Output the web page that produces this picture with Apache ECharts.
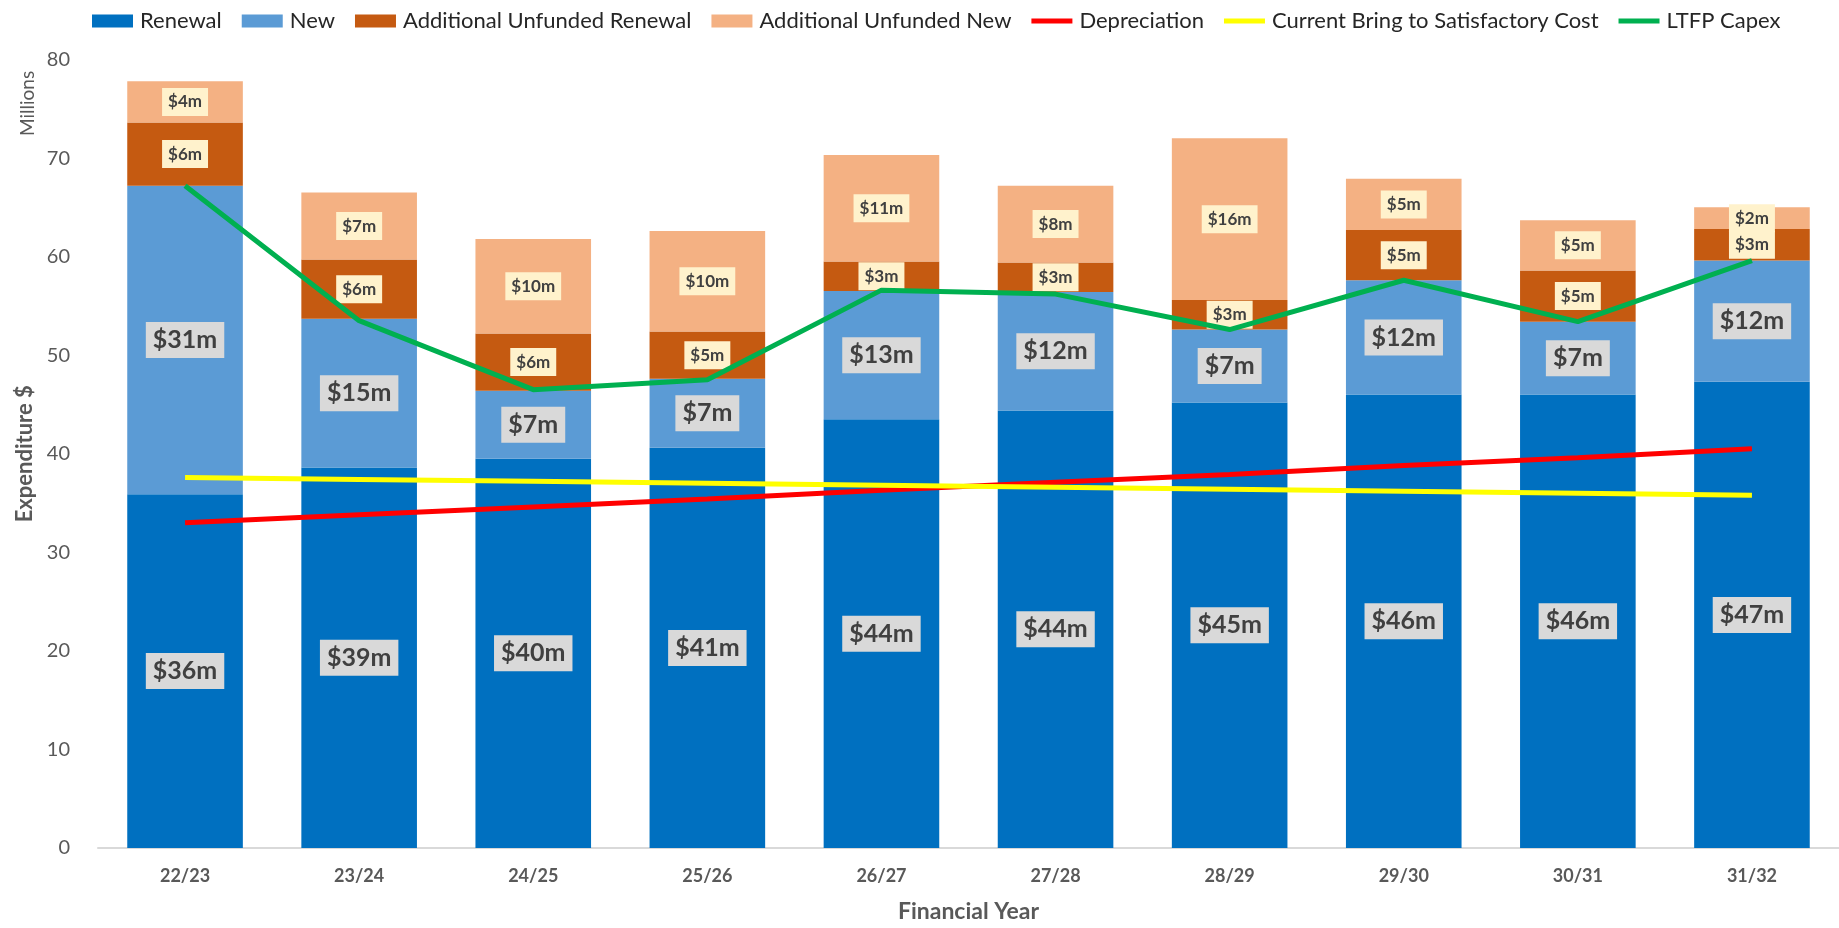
<!DOCTYPE html>
<html>
<head>
<meta charset="utf-8">
<script src="https://cdn.jsdelivr.net/npm/echarts@6/dist/echarts.min.js"></script>
<style>
    html, body { margin: 0; padding: 0; background: #fff; }
    #content1 { width: 1839px; height: 928px; }
</style>
</head>
<body>
<div id="content1"></div>
<script>
    // values in $ millions
    var years = ['22/23', '23/24', '24/25', '25/26', '26/27', '27/28', '28/29', '29/30', '30/31', '31/32'];
    var renewal = [35.9, 38.6, 39.5, 40.6, 43.5, 44.4, 45.2, 46.0, 46.0, 47.3];
    var newAssets = [31.3, 15.1, 6.9, 7.0, 13.0, 12.0, 7.4, 11.6, 7.4, 12.3];
    var addRenewal = [6.4, 6.0, 5.8, 4.8, 3.0, 3.0, 3.0, 5.1, 5.2, 3.2];
    var addNew = [4.2, 6.8, 9.6, 10.2, 10.8, 7.8, 16.4, 5.2, 5.1, 2.2];
    var depreciation = [33.0, 33.8, 34.6, 35.4, 36.3, 37.1, 37.9, 38.8, 39.6, 40.5];
    var bringToSat = [37.6, 37.4, 37.2, 37.0, 36.8, 36.6, 36.4, 36.2, 36.0, 35.8];
    var ltfpCapex = [67.2, 53.5, 46.5, 47.5, 56.6, 56.2, 52.6, 57.6, 53.4, 59.6];
    var yTicks = [0, 80, 10]; // min, max, interval

    var font = 'Lato, "Open Sans", sans-serif';
    // thin band inside the 41x13 legend box, so line series get a line icon
    var lineIcon = 'path://M0,0L0,0M0,4L41,4L41,9L0,9ZM0,13L0,13';

    function money(p) {
        return '$' + Math.round(p.value) + 'm';
    }

    // big grey labels for funded, small cream labels for unfunded
    var bigLabel = {
        show: true,
        position: 'inside',
        formatter: money,
        fontFamily: font,
        fontSize: 25,
        fontWeight: 'bold',
        color: '#404040',
        backgroundColor: '#D9D9D9',
        padding: [6, 7, 5, 7]
    };
    var smallLabel = {
        show: true,
        position: 'inside',
        formatter: money,
        fontFamily: font,
        fontSize: 17,
        fontWeight: 'bold',
        color: '#404040',
        backgroundColor: '#FFF2CC',
        padding: [6, 6, 5, 6]
    };

    function bar(name, data, color, label) {
        return {
            name: name,
            type: 'bar',
            stack: 'total',
            barCategoryGap: '33.6%',
            data: data,
            itemStyle: { color: color },
            label: label,
            emphasis: { disabled: true },
            z: 2
        };
    }

    function line(name, data, color) {
        return {
            name: name,
            type: 'line',
            data: data,
            symbol: 'none',
            lineStyle: { color: color, width: 5 },
            itemStyle: { color: color },
            emphasis: { disabled: true },
            z: 3
        };
    }

    var dom = document.getElementById("content1");
    var myChart = echarts.init(dom);
    var option = {
        animation: false,
        textStyle: { fontFamily: font },
        legend: {
            left: 87,
            top: 5,
            itemWidth: 41,
            itemHeight: 13,
            itemGap: 20,
            textStyle: { fontFamily: font, fontSize: 22, color: '#262626', padding: [0, 0, 0, 2] },
            data: [
                { name: 'Renewal', icon: 'rect' },
                { name: 'New', icon: 'rect' },
                { name: 'Additional Unfunded Renewal', icon: 'rect' },
                { name: 'Additional Unfunded New', icon: 'rect' },
                { name: 'Depreciation', icon: lineIcon },
                { name: 'Current Bring to Satisfactory Cost', icon: lineIcon },
                { name: 'LTFP Capex', icon: lineIcon }
            ]
        },
        grid: {
            left: 98,
            top: 59.5,
            width: 1747,
            height: 790.5,
            containLabel: false
        },
        graphic: [
            {
                type: 'text',
                x: 18,
                y: 136,
                rotation: Math.PI / 2,
                style: {
                    text: 'Millions',
                    fontFamily: font,
                    fontSize: 19,
                    fill: '#595959'
                }
            }
        ],
        xAxis: {
            type: 'category',
            data: years,
            name: 'Financial Year',
            nameLocation: 'middle',
            nameGap: 52,
            nameTextStyle: { fontFamily: font, fontSize: 23, fontWeight: 'bold', color: '#595959' },
            axisLine: { lineStyle: { color: '#D9D9D9', width: 2 } },
            axisTick: { show: false },
            axisLabel: { fontFamily: font, fontSize: 18, fontWeight: 'bold', color: '#595959', margin: 19 }
        },
        yAxis: {
            type: 'value',
            min: yTicks[0],
            max: yTicks[1],
            interval: yTicks[2],
            name: 'Expenditure $',
            nameLocation: 'middle',
            nameGap: 60,
            nameTextStyle: { fontFamily: font, fontSize: 22, fontWeight: 'bold', color: '#595959' },
            axisLine: { show: false },
            axisTick: { show: false },
            splitLine: { show: false },
            axisLabel: { fontFamily: font, fontSize: 20, color: '#595959', margin: 28 }
        },
        series: [
            bar('Renewal', renewal, '#0070C0', bigLabel),
            bar('New', newAssets, '#5B9BD5', bigLabel),
            bar('Additional Unfunded Renewal', addRenewal, '#C55A11', smallLabel),
            bar('Additional Unfunded New', addNew, '#F4B183', smallLabel),
            line('Depreciation', depreciation, '#FF0000'),
            line('Current Bring to Satisfactory Cost', bringToSat, '#FFFF00'),
            line('LTFP Capex', ltfpCapex, '#00B050')
        ]
    };
    if (option && typeof option === "object") {
        myChart.setOption(option, true);
    }
</script>
</body>
</html>
